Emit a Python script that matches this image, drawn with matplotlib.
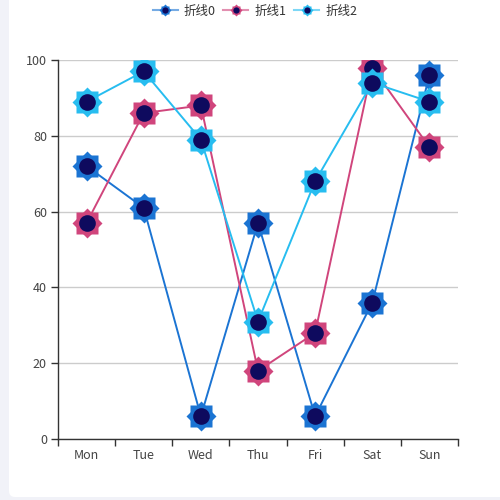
import matplotlib.pyplot as plt
from matplotlib.patches import FancyBboxPatch
from matplotlib.lines import Line2D

plt.rcParams['font.family'] = ['Noto Sans CJK SC', 'DejaVu Sans']

days = ['Mon', 'Tue', 'Wed', 'Thu', 'Fri', 'Sat', 'Sun']
names = ['折线0', '折线1', '折线2']
line0 = [72, 61, 6, 57, 6, 36, 96]
line1 = [57, 86, 88, 18, 28, 98, 77]
line2 = [89, 97, 79, 31, 68, 94, 89]
series = [line0, line1, line2]
colors = ['#1b74d3', '#d0457c', '#27bdf0']
inner = '#0e0a5e'
yticks = [0, 20, 40, 60, 80, 100]

fig = plt.figure(figsize=(5, 5), dpi=100, facecolor='#f1f2f8')
card = FancyBboxPatch((0.018, 0.006), 1.1, 1.1,
                      boxstyle='round,pad=0,rounding_size=0.012',
                      transform=fig.transFigure, facecolor='white',
                      edgecolor='none', zorder=-5)
fig.patches.append(card)

ax = fig.add_axes([0.116, 0.122, 0.8, 0.758])
ax.set_facecolor('none')
ax.set_zorder(2)
x = list(range(len(days)))

for vals, c in zip(series, colors):
    ax.plot(x, vals, color=c, lw=1.4, zorder=3, solid_capstyle='round')

handles = []
for i, (vals, c) in enumerate(zip(series, colors)):
    z = 4 + i
    ax.plot(x, vals, ls='none', marker='s', ms=15.2, mfc=c, mec='none', zorder=z)
    ax.plot(x, vals, ls='none', marker='D', ms=15.2, mfc=c, mec='none', zorder=z)
    ax.plot(x, vals, ls='none', marker='o', ms=12, mfc=inner, mec='none', zorder=z)
    h = (Line2D([], [], color=c, lw=1.5, alpha=0.6),
         Line2D([], [], ls='none', marker='s', ms=6, mfc=c, mec='none'),
         Line2D([], [], ls='none', marker='D', ms=6, mfc=c, mec='none'),
         Line2D([], [], ls='none', marker='o', ms=4.5, mfc=inner, mec='none'))
    handles.append(h)

ax.set_xlim(-0.5, 6.5)
ax.set_ylim(0, 100)
ax.set_yticks(yticks)
ax.set_xticks([i - 0.5 for i in range(len(days) + 1)])
ax.set_xticklabels([])
ax.set_xticks(x, minor=True)
ax.set_xticklabels(days, minor=True)
ax.tick_params(axis='x', which='minor', length=0, pad=7, labelsize=9, labelcolor='#444')
ax.tick_params(axis='x', which='major', length=5, color='#333', width=1)
ax.tick_params(axis='y', length=5, color='#333', width=1, pad=3, labelsize=9, labelcolor='#444')
ax.grid(axis='y', color='#cccccc', lw=1, zorder=1)
ax.set_axisbelow(True)
for s in ['top', 'right']:
    ax.spines[s].set_visible(False)
for s in ['left', 'bottom']:
    ax.spines[s].set_color('#333')
    ax.spines[s].set_linewidth(1)

fig.legend(handles, names, loc='upper center', bbox_to_anchor=(0.51, 1.013), ncol=3,
           frameon=False, fontsize=9, handlelength=2.0, handletextpad=0.5,
           columnspacing=0.6, labelcolor='#333')

fig.savefig('out.png', dpi=100, facecolor=fig.get_facecolor())
